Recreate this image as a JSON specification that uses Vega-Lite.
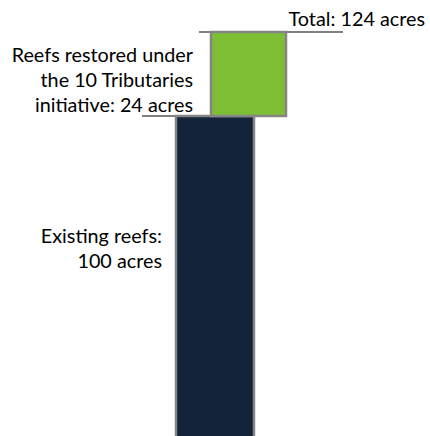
{
  "$schema": "https://vega.github.io/schema/vega-lite/v6.json",
  "width": 430,
  "height": 436,
  "padding": 0,
  "autosize": {"type": "fit", "contains": "padding"},
  "background": "white",
  "config": {"view": {"stroke": null}},
  "datasets": {
    "bars": [
      {"segment": "Existing reefs", "x0": 176, "x1": 254, "acres0": 0, "acres1": 100},
      {"segment": "Restored reefs", "x0": 211, "x1": 286, "acres0": 100, "acres1": 124}
    ],
    "rules": [
      {"x0": 199, "x1": 343, "acres": 124},
      {"x0": 142, "x1": 211, "acres": 100}
    ],
    "labels": [
      {"label": "Total: 124 acres", "x": 425, "acres": 125.7},
      {"label": "Reefs restored under\nthe 10 Tributaries\ninitiative: 24 acres", "x": 193, "acres": 115.4},
      {"label": "Existing reefs:\n100 acres", "x": 162, "acres": 63.7}
    ]
  },
  "layer": [
    {
      "data": {"name": "rules"},
      "mark": {"type": "rule", "color": "#808080", "strokeWidth": 2},
      "encoding": {
        "x": {"field": "x0", "type": "quantitative", "scale": {"domain": [0, 430], "nice": false, "zero": false}, "axis": null},
        "x2": {"field": "x1"},
        "y": {"field": "acres", "type": "quantitative", "scale": {"domain": [8.57, 133.14], "nice": false, "zero": false}, "axis": null}
      }
    },
    {
      "data": {"name": "bars"},
      "mark": {"type": "bar", "stroke": "#858585", "strokeWidth": 2.5, "clip": true},
      "encoding": {
        "x": {"field": "x0", "type": "quantitative", "axis": null},
        "x2": {"field": "x1"},
        "y": {"field": "acres0", "type": "quantitative", "axis": null},
        "y2": {"field": "acres1"},
        "color": {"field": "segment", "type": "nominal", "scale": {"domain": ["Existing reefs", "Restored reefs"], "range": ["#13243A", "#7DBE35"]}, "legend": null}
      }
    },
    {
      "data": {"name": "labels"},
      "mark": {"type": "text", "align": "right", "baseline": "alphabetic", "font": "Lato", "fontSize": 19.8, "lineHeight": 25, "color": "#000000", "lineBreak": "\n"},
      "encoding": {
        "x": {"field": "x", "type": "quantitative", "axis": null},
        "y": {"field": "acres", "type": "quantitative", "axis": null},
        "text": {"field": "label"}
      }
    }
  ]
}
